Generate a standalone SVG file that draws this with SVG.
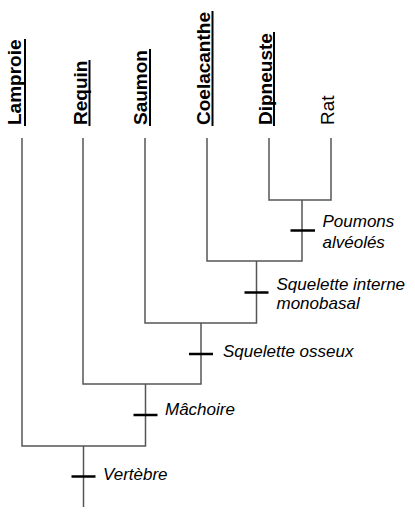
<svg xmlns="http://www.w3.org/2000/svg" width="415" height="514" viewBox="0 0 415 514">
<style>
.taxon{font-family:"Liberation Sans",Arial,sans-serif;font-size:19px;fill:#000}
.b{font-weight:bold}
.ul{stroke:#000;stroke-width:2}
.trait{font-family:"Liberation Sans",Arial,sans-serif;font-size:17px;font-style:italic;fill:#000}
.br{stroke:#555;stroke-width:1.5;fill:none}
.tick{stroke:#000;stroke-width:2.5}
</style>
<rect width="415" height="514" fill="#fff"/>
<g id="lamproie"><text class="taxon b" transform="translate(21,125) rotate(-90)">Lamproie</text><line class="ul" x1="25" y1="126" x2="25" y2="39"/></g>
<g id="requin"><text class="taxon b" transform="translate(86.5,125) rotate(-90)">Requin</text><line class="ul" x1="89.5" y1="126" x2="89.5" y2="60"/></g>
<g id="saumon"><text class="taxon b" transform="translate(147,125) rotate(-90)">Saumon</text><line class="ul" x1="150" y1="126" x2="150" y2="49"/></g>
<g id="coelacanthe"><text class="taxon b" transform="translate(209.5,125) rotate(-90)">Coelacanthe</text><line class="ul" x1="212.5" y1="126" x2="212.5" y2="11"/></g>
<g id="dipneuste"><text class="taxon b" transform="translate(271.5,125) rotate(-90)">Dipneuste</text><line class="ul" x1="274" y1="126" x2="274" y2="32"/></g>
<g id="rat"><text class="taxon" transform="translate(334,125) rotate(-90)">Rat</text></g>
<g id="connectors">
<path class="br" d="M269,138 V200 H331 V138"/>
<path class="br" d="M302,200 V261 H207 V138"/>
<path class="br" d="M256.5,261 V323 H145 V138"/>
<path class="br" d="M201,323 V384 H83 V138"/>
<path class="br" d="M145.5,384 V446 H22 V138"/>
<path class="br" d="M83.5,446 V507"/>
</g>
<g id="poumons">
<line class="tick" x1="290.5" y1="230.5" x2="315" y2="230.5"/>
<text class="trait" x="322.5" y="227">Poumons</text>
<text class="trait" x="322.5" y="247.5">alvéolés</text>
</g>
<g id="squelette-interne">
<line class="tick" x1="244.5" y1="292.5" x2="268.5" y2="292.5"/>
<text class="trait" x="276.5" y="289.5">Squelette interne</text>
<text class="trait" x="276.5" y="308.5">monobasal</text>
</g>
<g id="squelette-osseux">
<line class="tick" x1="189" y1="354" x2="213" y2="354"/>
<text class="trait" x="223" y="357">Squelette osseux</text>
</g>
<g id="machoire">
<line class="tick" x1="133.5" y1="415" x2="157.5" y2="415"/>
<text class="trait" x="165" y="414.5">Mâchoire</text>
</g>
<g id="vertebre">
<line class="tick" x1="71.5" y1="476.5" x2="95.5" y2="476.5"/>
<text class="trait" x="103" y="479.5">Vertèbre</text>
</g>
</svg>
